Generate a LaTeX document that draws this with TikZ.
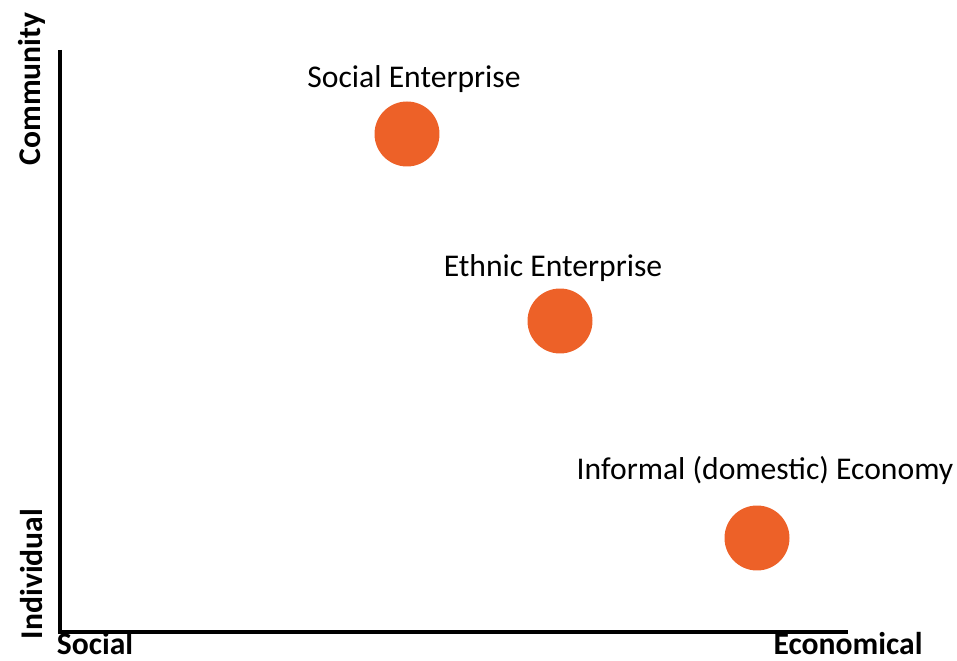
\documentclass[tikz,border=0pt]{standalone}
\usepackage{fontspec}
\setmainfont{Carlito}
\definecolor{dotorange}{RGB}{237,97,40}

\begin{document}
\begin{tikzpicture}[x=0.02cm,y=-0.02cm,
  dot/.style={circle,fill=dotorange,minimum size=1.3cm,inner sep=0pt},
  lbl/.style={font=\fontsize{18}{21}\selectfont},
  axlbl/.style={font=\fontsize{18}{21}\selectfont\bfseries,inner sep=0pt}]
\useasboundingbox (0,0) rectangle (957,661);
% axes
\coordinate (ytop) at (60,50);
\coordinate (origin) at (60,632);
\coordinate (xend) at (848,632);
\draw[line width=2pt] (ytop) -- (origin) -- (xend);
\node[axlbl,rotate=90] (community) at (32,89) {Community};
\node[axlbl,rotate=90] (individual) at (32,574) {Individual};
\node[axlbl,anchor=base] (social) at (95,655) {Social};
\node[axlbl,anchor=base] (economical) at (848,655) {Economical};
% dots
\node[dot] (socent) at (407,134) {};
\node[dot] (ethent) at (560,321) {};
\node[dot] (informal) at (757,538) {};
\node[lbl] (socentlbl) at (414,79) {Social Enterprise};
\node[lbl] (ethentlbl) at (553,268) {Ethnic Enterprise};
\node[lbl] (informallbl) at (765,470) {Informal (domestic) Economy};
\end{tikzpicture}
\end{document}
